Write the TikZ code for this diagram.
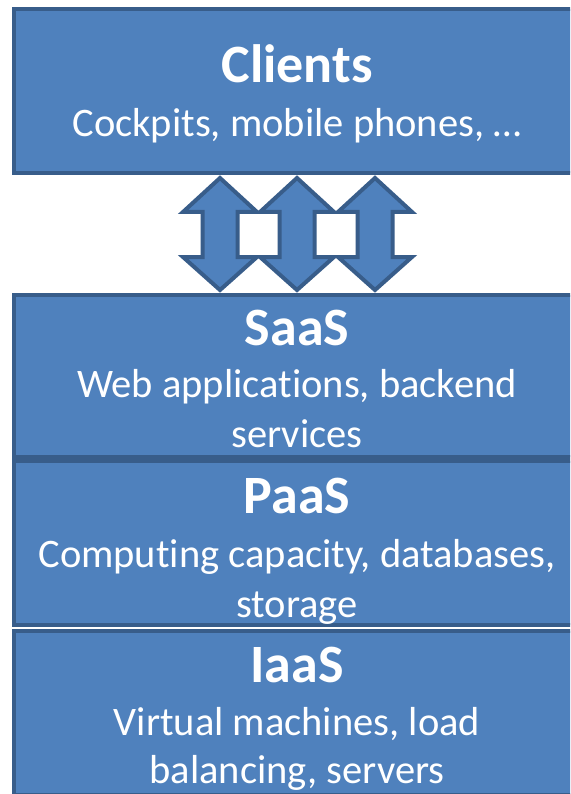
\documentclass[tikz,border=0pt]{standalone}
\usepackage{fontspec}
\setmainfont{Carlito}[Ligatures={NoCommon}]
\begin{document}
\begin{tikzpicture}[x=1pt,y=-1pt,
  layerbox/.style={draw=boxline, fill=boxfill, line width=4pt, rectangle, inner sep=0pt},
  titletext/.style={text=white, anchor=base, inner sep=0pt, font=\fontsize{54}{64}\selectfont\bfseries},
  bodytext/.style={text=white, anchor=base, inner sep=0pt, font=\fontsize{40.5}{50}\selectfont},
  updown/.style={draw=boxline, fill=boxfill, line width=4pt, line join=miter}]
\definecolor{boxfill}{HTML}{4F81BD}
\definecolor{boxline}{HTML}{385D8A}
\useasboundingbox (0,0) rectangle (570,794);
\clip (0,0) rectangle (570,794);
\fill[white] (0,0) rectangle (570,794);

% client layer (runs on past the right edge of the page)
\node[layerbox, minimum width=586pt, minimum height=164pt] (clients) at (307,91) {};
\node[titletext] (clientsT) at (297,83) {Clients};
\node[bodytext] (clientsB) at (297,137) {Cockpits, mobile phones, …};

% double arrows between clients and the service layers
\foreach \cx/\nm in {220/a1, 297/a2, 375/a3}{
  \coordinate (\nm) at (\cx,233);
  \draw[updown] (\cx,178) -- ++(37,34) -- ++(-19.5,0) -- (\cx+17.5,257) -- ++(19.5,0)
    -- (\cx,290) -- ++(-37,-33) -- ++(19.5,0) -- (\cx-17.5,212) -- ++(-19.5,0) -- cycle;
}

% service layers
\node[layerbox, minimum width=586pt, minimum height=162pt] (saas) at (307,376) {};
\node[titletext] (saasT) at (297,345) {SaaS};
\node[bodytext] (saasB1) at (297,397) {Web applications, backend};
\node[bodytext] (saasB2) at (297,447) {services};

\node[layerbox, minimum width=586pt, minimum height=164pt] (paas) at (307,543) {};
\node[titletext] (paasT) at (297,513) {PaaS};
\node[bodytext] (paasB1) at (297,567) {Computing capacity, databases,};
\node[bodytext] (paasB2) at (297,617) {storage};

\node[layerbox, minimum width=586pt, minimum height=164pt] (iaas) at (307,713) {};
\node[titletext] (iaasT) at (297,682) {IaaS};
\node[bodytext] (iaasB1) at (297,735) {Virtual machines, load};
\node[bodytext] (iaasB2) at (297,783) {balancing, servers};
\end{tikzpicture}
\end{document}
